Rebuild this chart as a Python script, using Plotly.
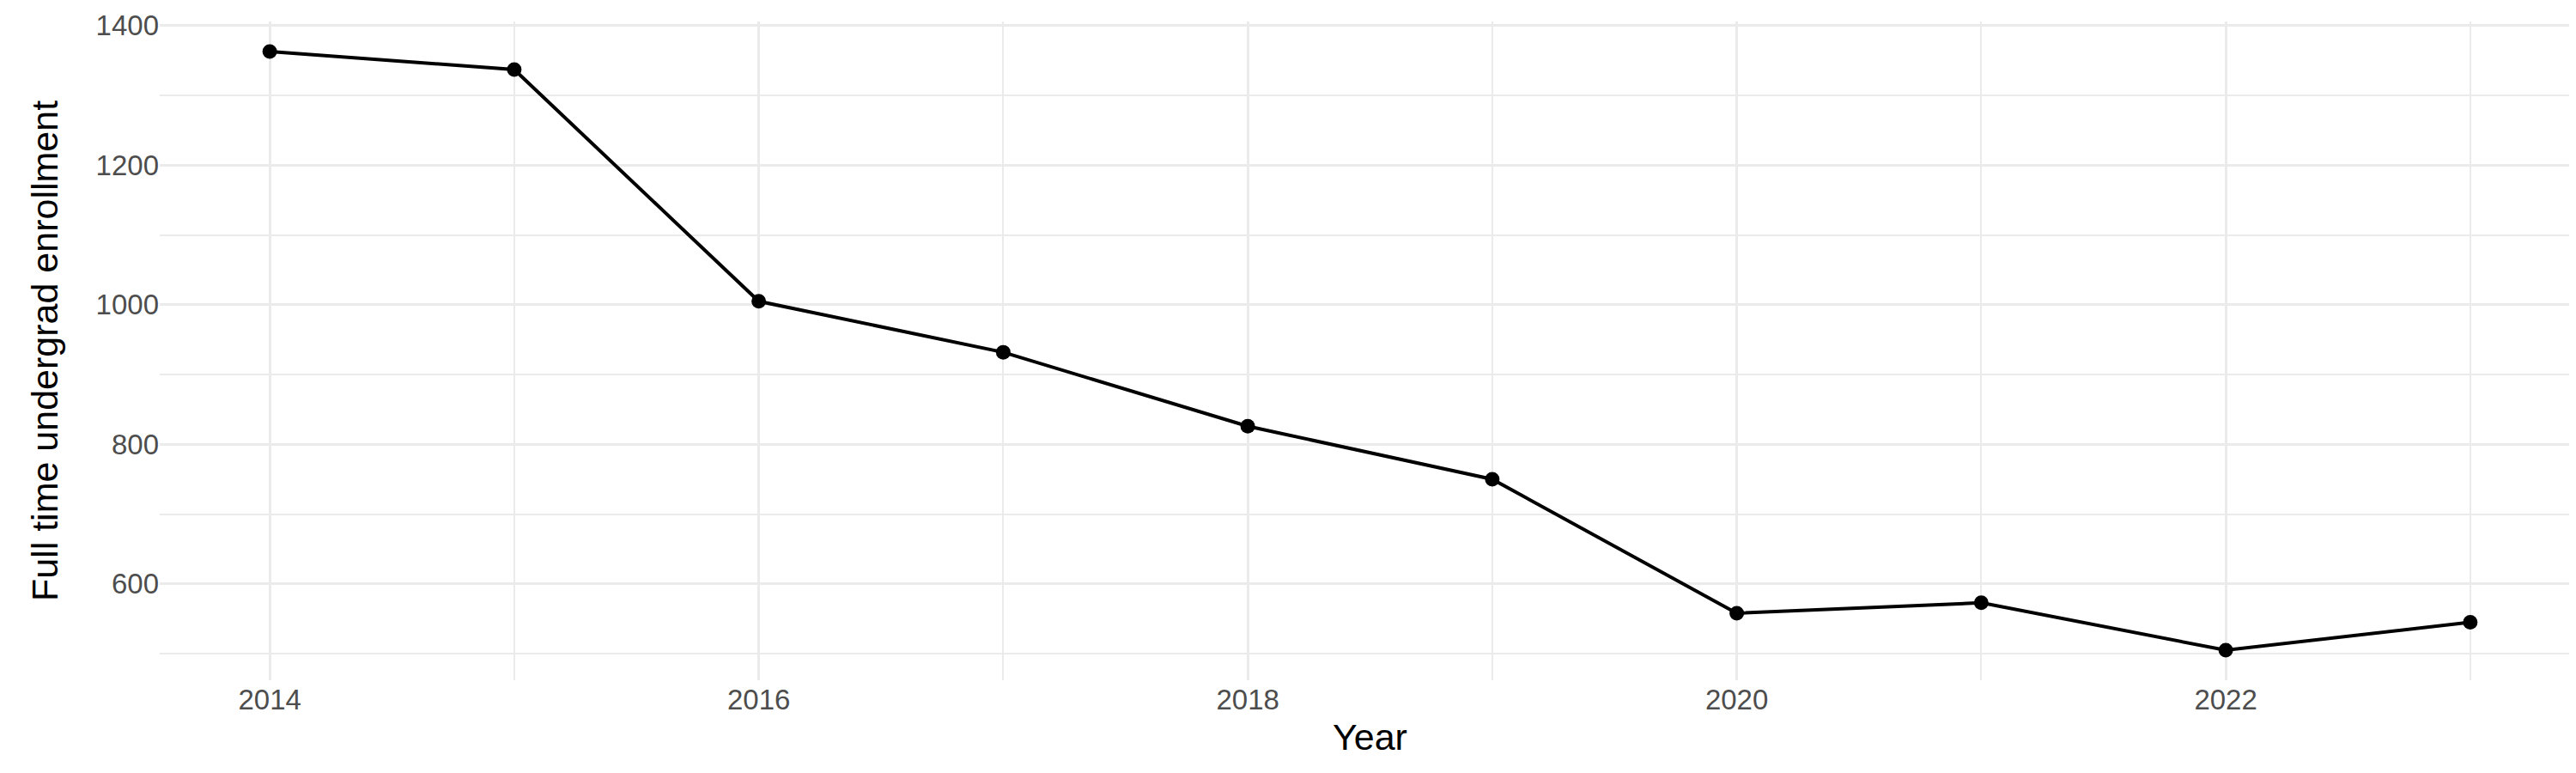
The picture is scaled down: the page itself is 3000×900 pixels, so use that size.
import plotly.graph_objects as go

years = [2014, 2015, 2016, 2017, 2018, 2019, 2020, 2021, 2022, 2023]
enrollment = [1363, 1337, 1005, 932, 826, 750, 558, 573, 505, 545]
x_ticks = [2014, 2016, 2018, 2020, 2022]
y_ticks = [600, 800, 1000, 1200, 1400]

fig = go.Figure(go.Scatter(
    x=years, y=enrollment, mode="lines+markers",
    line=dict(color="black", width=4),
    marker=dict(color="black", size=17),
))
font = "Liberation Sans, Arial, sans-serif"
fig.update_layout(
    width=3000, height=900,
    paper_bgcolor="white", plot_bgcolor="white",
    margin=dict(l=178, r=3, t=14, b=116),
    showlegend=False,
    font=dict(family=font),
)
fig.update_xaxes(
    range=[2013.55, 2023.45], tickvals=x_ticks, ticktext=[str(v) for v in x_ticks],
    showgrid=True, gridcolor="#EBEBEB", gridwidth=3,
    minor=dict(dtick=1, tick0=2013, showgrid=True, gridcolor="#EBEBEB", gridwidth=1.5),
    zeroline=False, showline=False, ticks="",
    tickfont=dict(size=33, color="#4D4D4D"),
    title=dict(text="Year", font=dict(size=43, color="black"), standoff=10),
)
fig.update_yaxes(
    range=[462, 1406], tickvals=y_ticks, ticktext=[str(v) for v in y_ticks],
    showgrid=True, gridcolor="#EBEBEB", gridwidth=3,
    minor=dict(dtick=100, tick0=500, showgrid=True, gridcolor="#EBEBEB", gridwidth=1.5),
    zeroline=False, showline=False, ticks="",
    tickfont=dict(size=33, color="#4D4D4D"),
    title=dict(text="Full time undergrad enrollment", font=dict(size=43, color="black"), standoff=30),
)
fig.write_html("out.html")
